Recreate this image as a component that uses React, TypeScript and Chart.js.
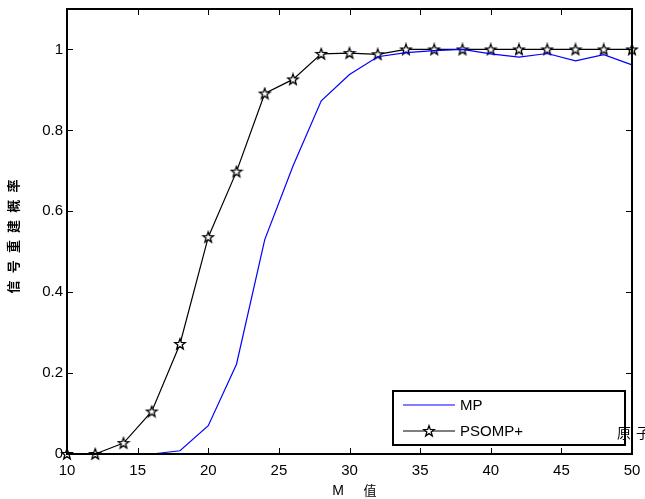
import { useEffect, useRef } from 'react';
import { Chart, registerables } from 'chart.js';
Chart.register(...registerables);

const mValues = [10, 12, 14, 16, 18, 20, 22, 24, 26, 28, 30, 32, 34, 36, 38, 40, 42, 44, 46, 48, 50];
const mpRate = [0, 0, 0, 0, 0.008, 0.07, 0.222, 0.53, 0.712, 0.873, 0.938, 0.982, 0.992, 0.997, 1, 0.989, 0.981, 0.99, 0.972, 0.987, 0.962];
const psompRate = [0, 0, 0.027, 0.105, 0.272, 0.536, 0.698, 0.891, 0.926, 0.989, 0.991, 0.988, 1, 1, 1, 1, 1, 1, 1, 1, 1];
const seriesNames = ['MP', 'PSOMP+'];
const yLabel = '信号重建概率';
const xLabelParts = ['M', '值'];
const strayText = ['原', '子'];

const FONT = '"Liberation Sans", Arial, sans-serif';
const CJK = '"Noto Sans CJK SC", sans-serif';

function makeStar(): HTMLCanvasElement {
  const c = document.createElement('canvas');
  c.width = 14;
  c.height = 14;
  const g = c.getContext('2d')!;
  const cx = 7, cy = 7.3, ro = 5.6, ri = 2.3;
  g.beginPath();
  for (let i = 0; i < 10; i++) {
    const r = i % 2 === 0 ? ro : ri;
    const a = -Math.PI / 2 + (i * Math.PI) / 5;
    const x = cx + r * Math.cos(a);
    const y = cy + r * Math.sin(a);
    if (i === 0) g.moveTo(x, y);
    else g.lineTo(x, y);
  }
  g.closePath();
  g.fillStyle = '#fff';
  g.fill();
  g.strokeStyle = '#000';
  g.lineWidth = 1.3;
  g.stroke();
  return c;
}

export default function App() {
  const ref = useRef<HTMLCanvasElement>(null);
  useEffect(() => {
    document.body.style.margin = '0';
    const star = makeStar();
    const framePlugin = {
      id: 'frame',
      afterDraw(chart: any) {
        const ctx = chart.ctx as CanvasRenderingContext2D;
        const { left, right, top, bottom } = chart.chartArea;
        const xs = chart.scales.x;
        const ys = chart.scales.y;
        ctx.save();
        ctx.strokeStyle = '#000';
        ctx.lineWidth = 1;
        xs.ticks.forEach((t: any) => {
          const px = Math.round(xs.getPixelForValue(t.value)) + 0.5;
          ctx.beginPath();
          ctx.moveTo(px, bottom);
          ctx.lineTo(px, bottom - 6);
          ctx.moveTo(px, top);
          ctx.lineTo(px, top + 6);
          ctx.stroke();
        });
        ys.ticks.forEach((t: any) => {
          const py = Math.round(ys.getPixelForValue(t.value)) + 0.5;
          ctx.beginPath();
          ctx.moveTo(left, py);
          ctx.lineTo(left + 6, py);
          ctx.moveTo(right, py);
          ctx.lineTo(right - 6, py);
          ctx.stroke();
        });
        ctx.lineWidth = 2;
        ctx.strokeRect(left, top, right - left, bottom - top);

        // legend
        const lx = 393, ly = 391, lw = 232, lh = 54;
        ctx.fillStyle = '#fff';
        ctx.fillRect(lx, ly, lw, lh);
        ctx.lineWidth = 2;
        ctx.strokeRect(lx, ly, lw, lh);
        ctx.lineWidth = 1.2;
        ctx.strokeStyle = '#0000ff';
        ctx.beginPath();
        ctx.moveTo(403, 405);
        ctx.lineTo(455, 405);
        ctx.stroke();
        ctx.strokeStyle = '#000';
        ctx.beginPath();
        ctx.moveTo(403, 431);
        ctx.lineTo(455, 431);
        ctx.stroke();
        ctx.drawImage(star, 429 - 7, 431 - 7);
        ctx.fillStyle = '#000';
        ctx.font = '15px ' + FONT;
        ctx.textAlign = 'left';
        ctx.textBaseline = 'middle';
        ctx.fillText(seriesNames[0], 460, 406);
        ctx.fillText(seriesNames[1], 460, 432);

        ctx.font = '14px ' + CJK;
        ctx.fillText(strayText[0], 617, 433);
        ctx.fillText(strayText[1], 636, 433);

        ctx.font = '14px ' + FONT;
        ctx.textAlign = 'center';
        ctx.fillText(xLabelParts[0], 338, 491);
        ctx.font = '13px ' + CJK;
        ctx.fillText(xLabelParts[1], 370, 490);

        ctx.font = 'bold 13px ' + CJK;
        const chars = Array.from(yLabel);
        const y0 = 287, step = 20.2;
        chars.forEach((ch, i) => {
          ctx.save();
          ctx.translate(13, y0 - i * step);
          ctx.rotate(-Math.PI / 2);
          ctx.fillText(ch, 0, 0);
          ctx.restore();
        });
        ctx.restore();
      },
    };

    const chart = new Chart(ref.current!, {
      type: 'line',
      data: {
        labels: mValues,
        datasets: [
          {
            label: seriesNames[0],
            data: mValues.map((m, i) => ({ x: m, y: mpRate[i] })),
            borderColor: '#0000ff',
            borderWidth: 1.2,
            pointRadius: 0,
            pointHoverRadius: 0,
            tension: 0,
            clip: false as any,
          },
          {
            label: seriesNames[1],
            data: mValues.map((m, i) => ({ x: m, y: psompRate[i] })),
            borderColor: '#000',
            borderWidth: 1.2,
            pointStyle: star as any,
            tension: 0,
            clip: false as any,
          },
        ],
      },
      options: {
        responsive: false,
        animation: false,
        events: [],
        layout: { padding: { top: 9, right: 13, left: 0, bottom: 0 } },
        plugins: { legend: { display: false }, tooltip: { enabled: false } },
        scales: {
          x: {
            type: 'linear',
            min: 10,
            max: 50,
            grid: { display: false, drawTicks: false },
            border: { display: false },
            ticks: {
              stepSize: 5,
              padding: 8,
              color: '#000',
              font: { family: FONT, size: 15 },
              maxRotation: 0,
            },
            afterFit(scale: any) {
              scale.height = 45;
              scale.paddingLeft = 0;
              scale.paddingRight = 0;
            },
          },
          y: {
            min: 0,
            max: 1.1,
            grid: { display: false, drawTicks: false },
            border: { display: false },
            ticks: {
              stepSize: 0.2,
              includeBounds: false,
              padding: 4,
              color: '#000',
              font: { family: FONT, size: 15 },
              callback: (v: any) => String(Math.round(Number(v) * 10) / 10),
            },
            afterFit(scale: any) {
              scale.width = 67;
              scale.paddingTop = 0;
              scale.paddingBottom = 0;
            },
          },
        },
      },
      plugins: [framePlugin],
    });
    return () => chart.destroy();
  }, []);
  return <canvas ref={ref} width={645} height={499} style={{ display: 'block' }} />;
}
